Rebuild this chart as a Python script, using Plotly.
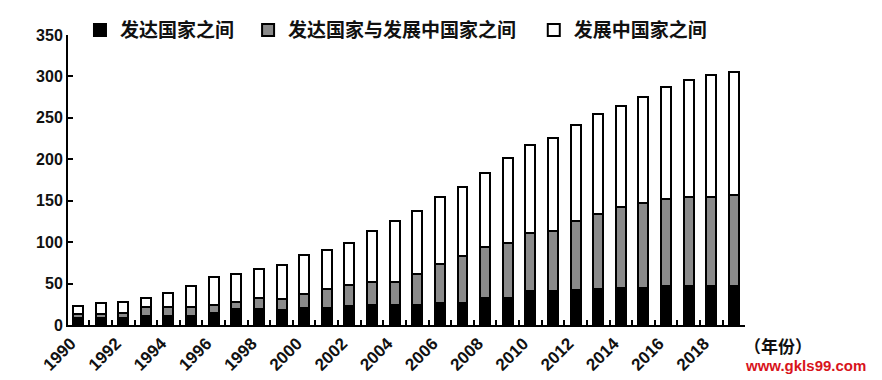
import plotly.graph_objects as go

years = list(range(1990, 2020))
# cumulative readings (top of each segment)
dev_dev = [8, 9, 9, 11, 11, 11, 15, 19, 19, 18, 20, 21, 23, 24, 24, 24, 27, 27, 33, 33,
           41, 41, 42, 43, 45, 45, 47, 47, 47, 47]
mid_top = [13, 13, 15, 22, 22, 22, 24, 28, 33, 31, 38, 43, 48, 52, 52, 62, 74, 83, 94, 99,
           111, 113, 125, 134, 143, 147, 152, 155, 155, 157]
total = [23, 26, 28, 33, 39, 47, 58, 62, 68, 72, 84, 91, 99, 114, 125, 137, 154, 166, 184, 202,
         217, 226, 241, 255, 264, 275, 287, 296, 302, 305]

dev_devg = [m - d for m, d in zip(mid_top, dev_dev)]
devg_devg = [t - m for t, m in zip(total, mid_top)]

names = ["发达国家之间", "发达国家与发展中国家之间", "发展中国家之间"]
colors = ["#000000", "#8a8a8a", "#ffffff"]
series = [dev_dev, dev_devg, devg_devg]
tick_years = list(range(1990, 2020, 2))

CJK = "Noto Sans CJK SC, sans-serif"
NUM = "Liberation Sans Narrow, Arial Narrow, Liberation Sans, sans-serif"

legend_ids = ["legend", "legend2", "legend3"]
legend_x = [0.0177, 0.266, 0.688]

fig = go.Figure()
for name, col, vals, lid in zip(names, colors, series, legend_ids):
    fig.add_trace(go.Bar(
        x=years, y=vals, name=name, width=0.44, legend=lid,
        marker=dict(color=col, line=dict(color="#000000", width=2)),
    ))

legend_style = dict(
    orientation="h", xanchor="left", y=1.017, yanchor="middle",
    font=dict(family=CJK, size=19, color="#111111", weight="bold"),
    bgcolor="rgba(0,0,0,0)", itemwidth=30,
)

fig.update_layout(
    barmode="stack",
    width=874, height=372,
    paper_bgcolor="white", plot_bgcolor="white",
    margin=dict(l=60, r=137, t=27, b=55, autoexpand=False),
    font=dict(family=NUM, color="#111111"),
    legend=dict(x=legend_x[0], **legend_style),
    legend2=dict(x=legend_x[1], **legend_style),
    legend3=dict(x=legend_x[2], **legend_style),
    showlegend=True,
)

fig.update_xaxes(
    range=[1989.56, 2019.49], automargin=False,
    tickmode="array", tickvals=tick_years, ticktext=[str(y) for y in tick_years],
    tickangle=-45, ticks="", ticklabelshift=-7, showgrid=False, zeroline=False,
    showline=True, linecolor="#000000", linewidth=2,
    tickfont=dict(family=NUM, size=17, color="#111111", weight="bold"),
    minor=dict(ticks="inside", tick0=1989.5, dtick=1, ticklen=5, tickcolor="#000000",
               tickwidth=2, showgrid=False),
)
fig.update_yaxes(
    range=[0, 350], dtick=50, tick0=0, automargin=False,
    ticks="inside", ticklen=5, tickwidth=2, tickcolor="#000000",
    showgrid=False, zeroline=False,
    showline=True, linecolor="#000000", linewidth=2,
    tickfont=dict(family=NUM, size=16, color="#111111", weight="bold"),
)

fig.add_annotation(
    text="（年份）", xref="paper", yref="paper", x=0.995, y=-0.07,
    xanchor="left", yanchor="middle", showarrow=False,
    font=dict(family=CJK, size=17, color="#111111", weight="bold"),
)
fig.add_annotation(
    text="www.gkls99.com", xref="paper", yref="paper", x=1.1817, y=-0.141,
    xanchor="right", yanchor="middle", showarrow=False,
    font=dict(family=NUM, size=15, color="#d8141c", weight="bold"),
)

fig.write_html("out.html")
